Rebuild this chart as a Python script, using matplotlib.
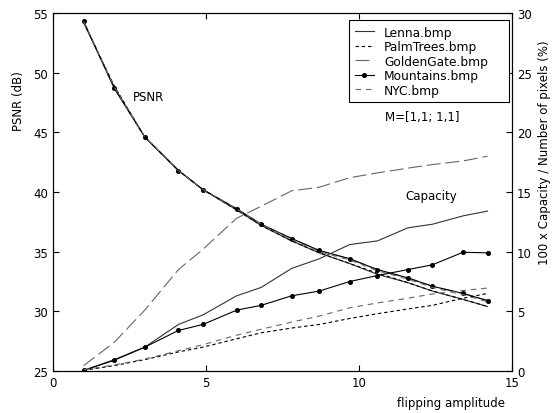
import matplotlib
matplotlib.use("Agg")
import matplotlib.pyplot as plt

plt.rcParams["font.family"] = ["DejaVu Sans"]
plt.rcParams["font.size"] = 8.5
plt.rcParams["lines.scale_dashes"] = False

# flipping amplitude values (x)
amp = [1, 2, 3, 4.1, 4.9, 6, 6.8, 7.8, 8.7, 9.7, 10.6, 11.6, 12.4, 13.4, 14.2]

# PSNR (dB), left axis
psnr_lenna = [54.2, 48.8, 44.6, 41.8, 40.2, 38.5, 37.2, 35.9, 34.9, 34.0, 33.1, 32.4, 31.7, 31.0, 30.4]
psnr_palm = [54.2, 48.9, 44.6, 41.8, 40.2, 38.5, 37.2, 35.9, 34.9, 34.0, 33.2, 32.4, 31.7, 31.0, 30.4]
psnr_golden = [54.3, 48.7, 44.6, 41.8, 40.2, 38.6, 37.3, 36.1, 35.1, 34.4, 33.5, 32.8, 32.1, 31.5, 30.9]
psnr_mount = [54.3, 48.7, 44.6, 41.8, 40.2, 38.6, 37.3, 36.1, 35.1, 34.4, 33.5, 32.8, 32.1, 31.5, 30.9]
psnr_nyc = [54.3, 48.8, 44.6, 41.8, 40.2, 38.6, 37.3, 36.0, 35.0, 34.3, 33.4, 32.7, 32.0, 31.4, 30.8]

# 100 x capacity / number of pixels (%), right axis
cap_lenna = [0.05, 0.95, 2.0, 3.9, 4.7, 6.3, 7.0, 8.6, 9.4, 10.6, 10.9, 12.0, 12.3, 13.0, 13.4]
cap_palm = [0.05, 0.45, 0.95, 1.6, 2.0, 2.7, 3.2, 3.6, 3.9, 4.4, 4.8, 5.2, 5.5, 6.1, 6.5]
cap_golden = [0.45, 2.4, 5.1, 8.5, 10.2, 12.8, 13.8, 15.1, 15.4, 16.2, 16.6, 17.0, 17.3, 17.6, 18.0]
cap_mount = [0.05, 0.9, 2.0, 3.4, 3.9, 5.1, 5.5, 6.3, 6.7, 7.5, 8.0, 8.5, 8.9, 9.95, 9.9]
cap_nyc = [0.1, 0.5, 1.0, 1.7, 2.2, 3.0, 3.5, 4.1, 4.6, 5.3, 5.7, 6.1, 6.45, 6.75, 6.95]

NAMES = ["Lenna.bmp", "PalmTrees.bmp", "GoldenGate.bmp", "Mountains.bmp", "NYC.bmp"]
PSNR = [psnr_lenna, psnr_palm, psnr_golden, psnr_mount, psnr_nyc]
CAP = [cap_lenna, cap_palm, cap_golden, cap_mount, cap_nyc]
STYLES = [
    dict(color="#333333", ls="-"),
    dict(color="black", ls=(0, (2.5, 2))),
    dict(color="#666666", ls=(0, (10, 3.5))),
    dict(color="black", ls="-", marker="o", ms=2.6),
    dict(color="#666666", ls=(0, (4, 3.5))),
]

fig = plt.figure(figsize=(5.53, 4.14), dpi=100)
ax = fig.add_axes([53 / 553, 42 / 414, 459 / 553, 358 / 414])
ax2 = ax.twinx()

for p, st in zip(PSNR, STYLES):
    ax.plot(amp, p, lw=0.8, **st)
handles = []
for c, st, name in zip(CAP, STYLES, NAMES):
    h, = ax2.plot(amp, c, lw=0.8, label=name, **st)
    handles.append(h)

ax.set_xlim(0, 15)
ax.set_ylim(25, 55)
ax2.set_ylim(0, 30)
ax.set_xticks([0, 5, 10, 15])
ax.set_yticks([25, 30, 35, 40, 45, 50, 55])
ax2.set_yticks([0, 5, 10, 15, 20, 25, 30])
ax.tick_params(direction="in", top=True, length=4, width=0.8)
ax.tick_params(axis="y", right=False)
ax2.tick_params(direction="in", length=4, width=0.8)
for a in (ax, ax2):
    for s in a.spines.values():
        s.set_linewidth(0.8)

ax.set_ylabel("PSNR (dB)")
ax.yaxis.set_label_coords(-0.061, 0.757)
ax2.set_ylabel("100 x Capacity / Number of pixels (%)")
ax2.yaxis.set_label_coords(1.056, 0.614)
ax.set_xlabel("flipping amplitude")
ax.xaxis.set_label_coords(0.867, -0.07)

ax.text(2.6, 48.0, "PSNR", va="center")
ax.text(11.5, 39.7, "Capacity", va="center")
ax.text(10.85, 46.3, "M=[1,1; 1,1]", va="center")

# legend box spans a fixed width, like the reference
leg = ax2.legend(handles=handles, loc="upper left", bbox_to_anchor=(0.645, 0.98, 0.3485, 0.0),
                 mode="expand", borderaxespad=0, fancybox=False, framealpha=1, edgecolor="black",
                 fontsize=8.8, labelspacing=0.12, handlelength=1.6, handletextpad=0.8, borderpad=0.45)
leg.get_frame().set_linewidth(0.8)

fig.savefig("out.png", dpi=100)
